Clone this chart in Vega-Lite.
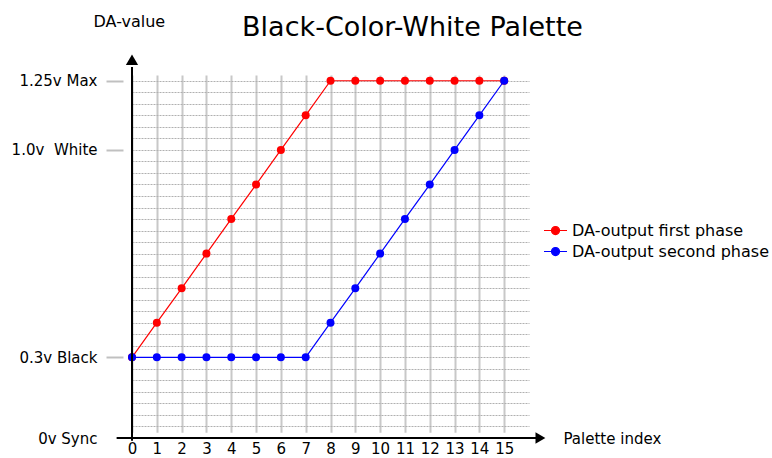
{
  "$schema": "https://vega.github.io/schema/vega-lite/v6.json",
  "width": 397,
  "height": 363,
  "autosize": {"type": "none"},
  "padding": {"left": 132, "top": 75, "right": 243, "bottom": 20},
  "background": "white",
  "config": {"view": {"stroke": null}, "font": "DejaVu Sans"},
  "title": {
    "text": "Black-Color-White Palette",
    "font": "DejaVu Sans",
    "fontSize": 27,
    "fontWeight": "normal",
    "color": "black",
    "anchor": "middle",
    "offset": -29,
    "dx": 82
  },
  "data": {
    "values": [
      {"index": 0, "value": 0.3, "series": "DA-output first phase"},
      {"index": 1, "value": 0.417, "series": "DA-output first phase"},
      {"index": 2, "value": 0.533, "series": "DA-output first phase"},
      {"index": 3, "value": 0.65, "series": "DA-output first phase"},
      {"index": 4, "value": 0.767, "series": "DA-output first phase"},
      {"index": 5, "value": 0.883, "series": "DA-output first phase"},
      {"index": 6, "value": 1.0, "series": "DA-output first phase"},
      {"index": 7, "value": 1.125, "series": "DA-output first phase"},
      {"index": 8, "value": 1.25, "series": "DA-output first phase"},
      {"index": 9, "value": 1.25, "series": "DA-output first phase"},
      {"index": 10, "value": 1.25, "series": "DA-output first phase"},
      {"index": 11, "value": 1.25, "series": "DA-output first phase"},
      {"index": 12, "value": 1.25, "series": "DA-output first phase"},
      {"index": 13, "value": 1.25, "series": "DA-output first phase"},
      {"index": 14, "value": 1.25, "series": "DA-output first phase"},
      {"index": 15, "value": 1.25, "series": "DA-output first phase"},
      {"index": 0, "value": 0.3, "series": "DA-output second phase"},
      {"index": 1, "value": 0.3, "series": "DA-output second phase"},
      {"index": 2, "value": 0.3, "series": "DA-output second phase"},
      {"index": 3, "value": 0.3, "series": "DA-output second phase"},
      {"index": 4, "value": 0.3, "series": "DA-output second phase"},
      {"index": 5, "value": 0.3, "series": "DA-output second phase"},
      {"index": 6, "value": 0.3, "series": "DA-output second phase"},
      {"index": 7, "value": 0.3, "series": "DA-output second phase"},
      {"index": 8, "value": 0.417, "series": "DA-output second phase"},
      {"index": 9, "value": 0.533, "series": "DA-output second phase"},
      {"index": 10, "value": 0.65, "series": "DA-output second phase"},
      {"index": 11, "value": 0.767, "series": "DA-output second phase"},
      {"index": 12, "value": 0.883, "series": "DA-output second phase"},
      {"index": 13, "value": 1.0, "series": "DA-output second phase"},
      {"index": 14, "value": 1.125, "series": "DA-output second phase"},
      {"index": 15, "value": 1.25, "series": "DA-output second phase"}
    ]
  },
  "layer": [
    {
      "mark": {"type": "line", "strokeWidth": 1.2},
      "encoding": {
        "x": {
          "field": "index",
          "type": "quantitative",
          "scale": {"domain": [0, 16], "nice": false, "zero": false},
          "axis": {
            "values": [0, 1, 2, 3, 4, 5, 6, 7, 8, 9, 10, 11, 12, 13, 14, 15],
            "tickCount": 100,
            "format": "d",
            "title": "Palette index",
            "titleX": 431,
            "titleY": 0,
            "titleAlign": "left",
            "titleBaseline": "middle",
            "titleAngle": 0,
            "titleFont": "DejaVu Sans",
            "titleFontSize": 15,
            "titleFontWeight": "normal",
            "titleColor": "black",
            "labelFont": "DejaVu Sans",
            "labelFontSize": 15,
            "labelColor": "black",
            "labelPadding": 3,
            "labelAngle": 0,
            "labelFlush": false,
            "labelOverlap": false,
            "ticks": false,
            "domain": false,
            "grid": true,
            "gridColor": "#c8c8c8",
            "gridWidth": 2
          }
        },
        "y": {
          "field": "value",
          "type": "quantitative",
          "scale": {"domain": [0, 0.3, 1.0, 1.25], "range": [363, 282.33, 74.9, 5.76], "nice": false, "zero": false},
          "axis": {
            "values": [0, 0.042857, 0.085714, 0.128571, 0.171429, 0.214286, 0.257143, 0.3, 0.338889, 0.377778, 0.416667, 0.455556, 0.494444, 0.533333, 0.572222, 0.611111, 0.65, 0.688889, 0.727778, 0.766667, 0.805556, 0.844444, 0.883333, 0.922222, 0.961111, 1, 1.041667, 1.083333, 1.125, 1.166667, 1.208333, 1.25],
            "tickCount": 100,
            "title": "DA-value",
            "titleX": -30,
            "titleY": -49,
            "titleAngle": 0,
            "titleAlign": "left",
            "titleBaseline": "alphabetic",
            "titleFont": "DejaVu Sans",
            "titleFontSize": 16,
            "titleFontWeight": "normal",
            "titleColor": "black",
            "offset": 9,
            "tickSize": 17,
            "tickColor": "#c0c0c0",
            "tickWidth": 2,
            "tickOpacity": {"condition": {"test": "datum.value === 0.3 || datum.value === 1 || datum.value === 1.25", "value": 1}, "value": 0},
            "labelExpr": "datum.value === 0 ? '0v Sync' : datum.value === 0.3 ? '0.3v Black' : datum.value === 1 ? '1.0v\u00a0 White' : datum.value === 1.25 ? '1.25v Max' : ''",
            "labelFont": "DejaVu Sans",
            "labelFontSize": 15,
            "labelColor": "black",
            "labelPadding": 9,
            "labelFlush": false,
            "labelOverlap": false,
            "domain": false,
            "grid": true,
            "gridColor": "#b0b0b0",
            "gridDash": [2, 1],
            "gridWidth": 1
          }
        },
        "color": {
          "field": "series",
          "type": "nominal",
          "scale": {"domain": ["DA-output first phase", "DA-output second phase"], "range": ["#ff0000", "#0000ff"]},
          "legend": {
            "orient": "none",
            "legendX": 411,
            "legendY": 143,
            "title": null,
            "padding": 0,
            "symbolType": "M-1,0H1M-0.35,0A0.35,0.35 0 1,0 0.35,0A0.35,0.35 0 1,0 -0.35,0",
            "symbolSize": 529,
            "symbolStrokeWidth": 1.2,
            "symbolOpacity": 1,
            "labelFont": "DejaVu Sans",
            "labelFontSize": 16,
            "labelColor": "black",
            "labelLimit": 400,
            "labelOffset": 4,
            "rowPadding": 0,
            "encode": {
              "symbols": {
                "update": {
                  "fill": {"scale": "color", "field": "value"},
                  "stroke": {"scale": "color", "field": "value"}
                }
              }
            }
          }
        }
      }
    },
    {
      "mark": {"type": "point", "filled": true, "size": 64, "opacity": 1},
      "encoding": {
        "x": {"field": "index", "type": "quantitative"},
        "y": {"field": "value", "type": "quantitative"},
        "color": {"field": "series", "type": "nominal"}
      }
    },
    {
      "data": {"values": [{}]},
      "mark": {"type": "rule", "color": "black", "strokeWidth": 2},
      "encoding": {
        "x": {"datum": 0, "type": "quantitative"},
        "y": {"datum": -0.01, "type": "quantitative"},
        "y2": {"datum": 1.3}
      }
    },
    {
      "data": {"values": [{}]},
      "mark": {"type": "rule", "color": "black", "strokeWidth": 2},
      "encoding": {
        "x": {"datum": -0.62, "type": "quantitative"},
        "x2": {"datum": 16.3},
        "y": {"datum": 0, "type": "quantitative"}
      }
    },
    {
      "data": {"values": [{}]},
      "mark": {"type": "point", "shape": "triangle-up", "filled": true, "color": "black", "size": 150, "opacity": 1},
      "encoding": {
        "x": {"datum": 0, "type": "quantitative"},
        "y": {"datum": 1.326, "type": "quantitative"}
      }
    },
    {
      "data": {"values": [{}]},
      "mark": {"type": "point", "shape": "triangle-right", "filled": true, "color": "black", "size": 130, "opacity": 1},
      "encoding": {
        "x": {"datum": 16.46, "type": "quantitative"},
        "y": {"datum": 0, "type": "quantitative"}
      }
    }
  ]
}
